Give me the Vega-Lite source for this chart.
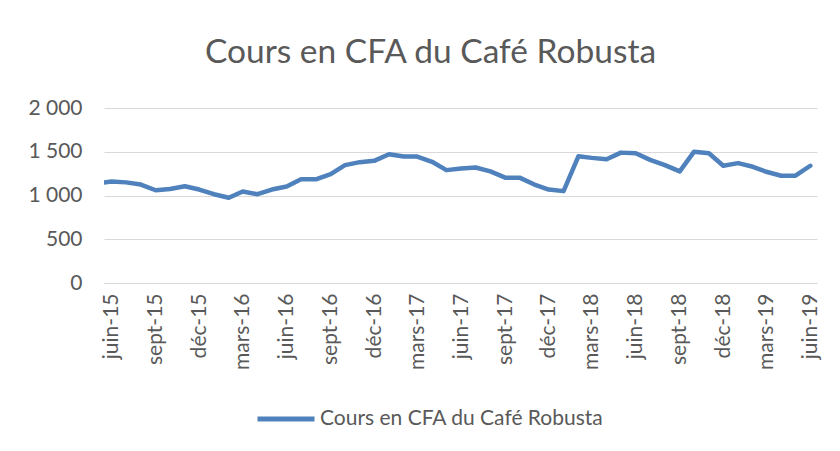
{
  "$schema": "https://vega.github.io/schema/vega-lite/v6.json",
  "width": 713,
  "height": 175,
  "autosize": {"type": "none"},
  "padding": {"left": 104, "top": 108, "right": 23, "bottom": 168},
  "background": "white",
  "title": {
    "text": "Cours en CFA du Café Robusta",
    "fontSize": 33.5,
    "font": "Lato",
    "fontWeight": "normal",
    "color": "#595959",
    "anchor": "middle",
    "dx": -30,
    "offset": 27
  },
  "data": {
    "values": [
      {"date": "2015-05-01", "cours": 1140},
      {"date": "2015-06-01", "cours": 1160},
      {"date": "2015-07-01", "cours": 1150},
      {"date": "2015-08-01", "cours": 1125},
      {"date": "2015-09-01", "cours": 1060},
      {"date": "2015-10-01", "cours": 1075},
      {"date": "2015-11-01", "cours": 1105},
      {"date": "2015-12-01", "cours": 1068},
      {"date": "2016-01-01", "cours": 1015},
      {"date": "2016-02-01", "cours": 975},
      {"date": "2016-03-01", "cours": 1045},
      {"date": "2016-04-01", "cours": 1015},
      {"date": "2016-05-01", "cours": 1068},
      {"date": "2016-06-01", "cours": 1102},
      {"date": "2016-07-01", "cours": 1185},
      {"date": "2016-08-01", "cours": 1185},
      {"date": "2016-09-01", "cours": 1245},
      {"date": "2016-10-01", "cours": 1347},
      {"date": "2016-11-01", "cours": 1381},
      {"date": "2016-12-01", "cours": 1396},
      {"date": "2017-01-01", "cours": 1471},
      {"date": "2017-02-01", "cours": 1445},
      {"date": "2017-03-01", "cours": 1445},
      {"date": "2017-04-01", "cours": 1385},
      {"date": "2017-05-01", "cours": 1290},
      {"date": "2017-06-01", "cours": 1309},
      {"date": "2017-07-01", "cours": 1320},
      {"date": "2017-08-01", "cours": 1275},
      {"date": "2017-09-01", "cours": 1204},
      {"date": "2017-10-01", "cours": 1204},
      {"date": "2017-11-01", "cours": 1125},
      {"date": "2017-12-01", "cours": 1068},
      {"date": "2018-01-01", "cours": 1050},
      {"date": "2018-02-01", "cours": 1448},
      {"date": "2018-03-01", "cours": 1430},
      {"date": "2018-04-01", "cours": 1415},
      {"date": "2018-05-01", "cours": 1490},
      {"date": "2018-06-01", "cours": 1483},
      {"date": "2018-07-01", "cours": 1407},
      {"date": "2018-08-01", "cours": 1347},
      {"date": "2018-09-01", "cours": 1275},
      {"date": "2018-10-01", "cours": 1501},
      {"date": "2018-11-01", "cours": 1483},
      {"date": "2018-12-01", "cours": 1340},
      {"date": "2019-01-01", "cours": 1370},
      {"date": "2019-02-01", "cours": 1328},
      {"date": "2019-03-01", "cours": 1271},
      {"date": "2019-04-01", "cours": 1226},
      {"date": "2019-05-01", "cours": 1226},
      {"date": "2019-06-01", "cours": 1340}
    ]
  },
  "mark": {
    "type": "line",
    "strokeWidth": 4.5,
    "strokeCap": "round",
    "strokeJoin": "round",
    "clip": true
  },
  "encoding": {
    "x": {
      "field": "date",
      "type": "temporal",
      "scale": {
        "type": "utc",
        "domain": [
          {"year": 2015, "month": 5, "date": 16, "utc": true},
          {"year": 2019, "month": 6, "date": 15, "utc": true}
        ]
      },
      "axis": {
        "title": null,
        "grid": false,
        "ticks": false,
        "tickSize": 0,
        "domainColor": "#d9d9d9",
        "domainWidth": 1,
        "labelAngle": -90,
        "labelAlign": "right",
        "labelBaseline": "middle",
        "labelFontSize": 21,
        "labelFont": "Lato",
        "labelColor": "#595959",
        "labelPadding": 10,
        "labelFlush": false,
        "labelOverlap": false,
        "values": [
          {"year": 2015, "month": 6, "date": 1, "utc": true},
          {"year": 2015, "month": 9, "date": 1, "utc": true},
          {"year": 2015, "month": 12, "date": 1, "utc": true},
          {"year": 2016, "month": 3, "date": 1, "utc": true},
          {"year": 2016, "month": 6, "date": 1, "utc": true},
          {"year": 2016, "month": 9, "date": 1, "utc": true},
          {"year": 2016, "month": 12, "date": 1, "utc": true},
          {"year": 2017, "month": 3, "date": 1, "utc": true},
          {"year": 2017, "month": 6, "date": 1, "utc": true},
          {"year": 2017, "month": 9, "date": 1, "utc": true},
          {"year": 2017, "month": 12, "date": 1, "utc": true},
          {"year": 2018, "month": 3, "date": 1, "utc": true},
          {"year": 2018, "month": 6, "date": 1, "utc": true},
          {"year": 2018, "month": 9, "date": 1, "utc": true},
          {"year": 2018, "month": 12, "date": 1, "utc": true},
          {"year": 2019, "month": 3, "date": 1, "utc": true},
          {"year": 2019, "month": 6, "date": 1, "utc": true}
        ],
        "labelExpr": "['janv','févr','mars','avr','mai','juin','juil','août','sept','oct','nov','déc'][utcmonth(datum.value)] + '-' + utcFormat(datum.value, '%y')"
      }
    },
    "y": {
      "field": "cours",
      "type": "quantitative",
      "scale": {"domain": [0, 2000]},
      "axis": {
        "title": null,
        "values": [0, 500, 1000, 1500, 2000],
        "domain": false,
        "ticks": false,
        "tickSize": 0,
        "gridColor": "#d9d9d9",
        "gridWidth": 1,
        "labelFontSize": 21,
        "labelFont": "Lato",
        "labelColor": "#595959",
        "labelPadding": 22,
        "labelExpr": "replace(format(datum.value, ','), ',', ' ')"
      }
    },
    "color": {
      "datum": "Cours en CFA du Café Robusta",
      "type": "nominal",
      "scale": {"range": ["#4f81bd"]},
      "legend": {
        "title": null,
        "orient": "none",
        "legendX": 151,
        "legendY": 280,
        "padding": 0,
        "symbolType": "stroke",
        "symbolSize": 3249,
        "symbolStrokeWidth": 5,
        "labelFontSize": 21,
        "labelFont": "Lato",
        "labelColor": "#595959",
        "labelOffset": 3,
        "labelLimit": 0
      }
    }
  },
  "config": {
    "view": {"stroke": null},
    "font": "Lato"
  }
}
